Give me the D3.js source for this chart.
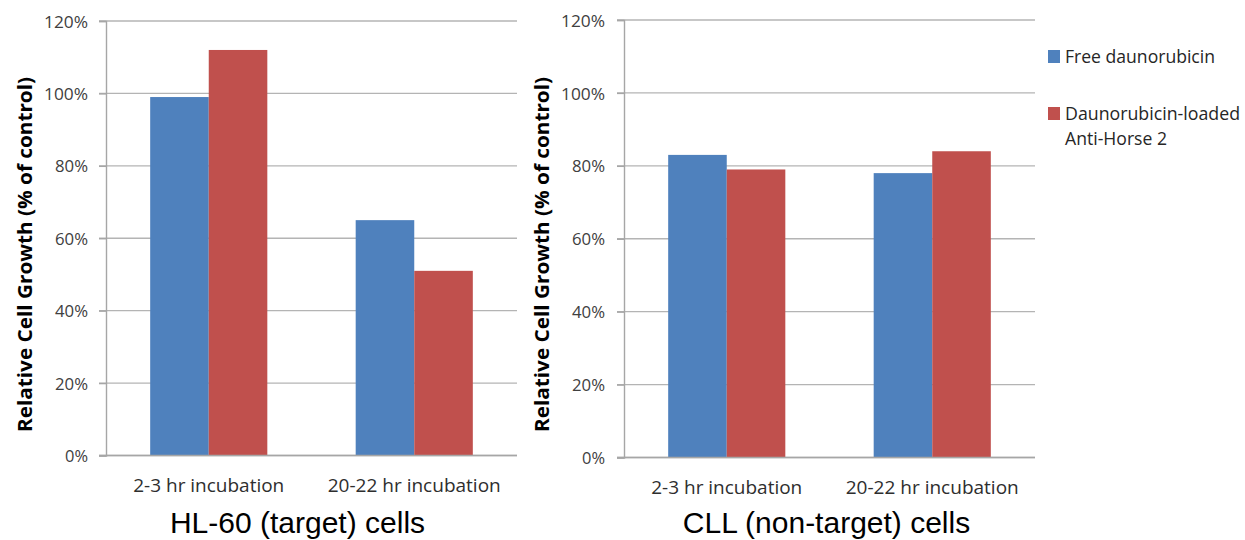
<!DOCTYPE html>
<html>
<head>
<meta charset="utf-8">
<script src="https://cdn.jsdelivr.net/npm/d3@7"></script>
<style>
  html, body { margin: 0; padding: 0; background: #ffffff; }
  svg { display: block; }
</style>
</head>
<body>
<svg id="chart" width="1245" height="540"></svg>
<script>
// ---- data ----
const categories = ["2-3 hr incubation", "20-22 hr incubation"];
const seriesNames = ["Free daunorubicin", "Daunorubicin-loaded Anti-Horse 2"];
const legendLines = [["Free daunorubicin"], ["Daunorubicin-loaded", "Anti-Horse 2"]];
const hl60Free = [99, 65];
const hl60Loaded = [112, 51];
const cllFree = [83, 78];
const cllLoaded = [79, 84];
const yTicks = [0, 20, 40, 60, 80, 100, 120];
const panelTitles = ["HL-60 (target) cells", "CLL (non-target) cells"];
const yTitle = "Relative Cell Growth (% of control)";
const colors = ["#4F81BD", "#C0504D"];

const svg = d3.select("#chart");
const FONT = "'Open Sans', 'DejaVu Sans', sans-serif";

const panels = [
  { left: 106, right: 517, top: 21, bottom: 455.5, data: [hl60Free, hl60Loaded],
    title: panelTitles[0], titleX: 297.5, yTitleX: 32, yTitleY: 254.5, tickLabelEnd: 88, catBase: 492 },
  { left: 624, right: 1035, top: 20, bottom: 457.5, data: [cllFree, cllLoaded],
    title: panelTitles[1], titleX: 826.5, yTitleX: 549, yTitleY: 254.5, tickLabelEnd: 605, catBase: 493.5 }
];

const catWidths = [151, 173];

panels.forEach(p => {
  const g = svg.append("g");
  const y = d3.scaleLinear().domain([0, 120]).range([p.bottom, p.top]);
  const x = d3.scaleBand().domain(categories).range([p.left, p.right])
    .paddingInner(0.43).paddingOuter(0.215);
  const xs = d3.scaleBand().domain(seriesNames).range([0, x.bandwidth()]).padding(0);

  // gridlines
  g.append("g").selectAll("line").data(yTicks).join("line")
    .attr("x1", p.left - 7).attr("x2", p.right)
    .attr("y1", d => y(d)).attr("y2", d => y(d))
    .attr("stroke", "#b4b4b4").attr("stroke-width", 1.4);

  // y axis
  const ya = g.append("g").attr("transform", `translate(${p.left},0)`)
    .call(d3.axisLeft(y).tickValues(yTicks).tickFormat(d => d + "%").tickSize(7));
  ya.select(".domain").attr("stroke", "#a6a6a6").attr("stroke-width", 1.4);
  ya.selectAll(".tick line").attr("stroke", "#a6a6a6").attr("stroke-width", 1.4);
  ya.selectAll(".tick text")
    .attr("x", p.tickLabelEnd - p.left)
    .attr("dy", "0.36em")
    .style("font-family", FONT).style("font-size", "17px").attr("fill", "#404040")
    .attr("textLength", 44).attr("lengthAdjust", "spacingAndGlyphs")
    .filter(d => d < 100).attr("textLength", 33);
  ya.selectAll(".tick text").filter(d => d === 0).attr("textLength", 23);

  // bars
  categories.forEach((c, ci) => {
    g.append("g").selectAll("rect").data(seriesNames).join("rect")
      .attr("x", (s) => x(c) + xs(s))
      .attr("width", xs.bandwidth())
      .attr("y", (s, si) => y(p.data[si][ci]))
      .attr("height", (s, si) => y(0) - y(p.data[si][ci]))
      .attr("fill", (s, si) => colors[si]);
  });

  // x axis
  const xa = g.append("g").attr("transform", `translate(0,${p.bottom})`)
    .call(d3.axisBottom(x).tickSize(0).tickPadding(0));
  xa.select(".domain").remove();
  xa.selectAll(".tick text")
    .attr("y", p.catBase - p.bottom).attr("dy", 0)
    .style("font-family", FONT).style("font-size", "18px").attr("fill", "#2e2e2e")
    .attr("textLength", (d, i) => catWidths[i]).attr("lengthAdjust", "spacingAndGlyphs");
  // baseline on top
  g.append("line").attr("x1", p.left - 7).attr("x2", p.right)
    .attr("y1", y(0)).attr("y2", y(0)).attr("stroke", "#a6a6a6").attr("stroke-width", 1.4);

  // y title
  g.append("text")
    .attr("transform", `translate(${p.yTitleX},${p.yTitleY}) rotate(-90)`)
    .attr("text-anchor", "middle")
    .style("font-family", FONT).style("font-size", "19px").style("font-weight", "bold")
    .attr("fill", "#000")
    .attr("textLength", 355).attr("lengthAdjust", "spacingAndGlyphs")
    .text(yTitle);

  // panel title
  g.append("text")
    .attr("x", p.titleX).attr("y", 533)
    .attr("text-anchor", "middle")
    .style("font-family", "'Liberation Sans', Arial, sans-serif").style("font-size", "30px")
    .attr("fill", "#000")
    .text(p.title);
});

// legend
const legend = svg.append("g");
const legendRows = [
  { sqY: 50, lines: legendLines[0], bases: [63], widths: [150] },
  { sqY: 107, lines: legendLines[1], bases: [120, 145], widths: [175, 102] }
];
legendRows.forEach((r, i) => {
  legend.append("rect").attr("x", 1048).attr("y", r.sqY).attr("width", 12).attr("height", 13)
    .attr("fill", colors[i]);
  r.lines.forEach((t, j) => {
    legend.append("text").attr("x", 1065).attr("y", r.bases[j])
      .style("font-family", FONT).style("font-size", "18px").attr("fill", "#262626")
      .attr("textLength", r.widths[j]).attr("lengthAdjust", "spacingAndGlyphs")
      .text(t);
  });
});
</script>
</body>
</html>
